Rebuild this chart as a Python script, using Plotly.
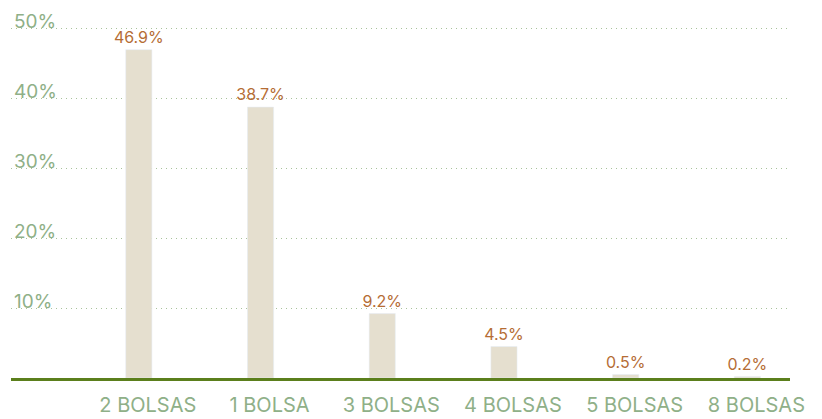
import plotly.graph_objects as go

categories = ['2 BOLSAS', '1 BOLSA', '3 BOLSAS', '4 BOLSAS', '5 BOLSAS', '8 BOLSAS']
shares = [46.9, 38.7, 9.2, 4.5, 0.5, 0.2]
share_labels = ['46.9%', '38.7%', '9.2%', '4.5%', '0.5%', '0.2%']
y_ticks = [10, 20, 30, 40, 50]
y_tick_labels = ['10%', '20%', '30%', '40%', '50%']

bar_color = '#e5dfcf'
label_color = '#b56d35'
axis_text_color = '#8fb088'
grid_color = '#a8c39b'
base_color = '#5b7f1c'
font_name = 'Inter'

fig = go.Figure()

fig.add_trace(go.Bar(x=categories, y=shares, marker_color=bar_color, width=0.215,
                     text=share_labels, textposition='outside', cliponaxis=False,
                     constraintext='none',
                     textfont=dict(color=label_color, size=16, family=font_name),
                     hoverinfo='skip'))

fig.update_layout(
    font_family=font_name,
    showlegend=False,
    xaxis=dict(range=[-1.05, 5.35], showgrid=False, automargin=False,
               showline=True, linecolor=base_color, linewidth=2.5,
               tickfont=dict(color=axis_text_color, size=20),
               ticklabelstandoff=7, ticklabelshift=9),
    yaxis=dict(range=[0, 54], tickvals=y_ticks, ticktext=y_tick_labels,
               automargin=False,
               showgrid=True, gridcolor=grid_color, griddash='1px,4px', gridwidth=1,
               zeroline=False, showline=False,
               ticklabelposition='inside', ticklabelshift=-7,
               tickfont=dict(color=axis_text_color, size=19)),
    bargap=0.8,
    plot_bgcolor='white', paper_bgcolor='white',
    margin=dict(l=11, r=32, t=0, b=41),
    width=822, height=419,
)

# page body has a default 8px margin; drop it so the figure sits at the window corner
fig.write_html("out.html", config={'displayModeBar': False},
               post_script="document.body.style.margin='0';")
